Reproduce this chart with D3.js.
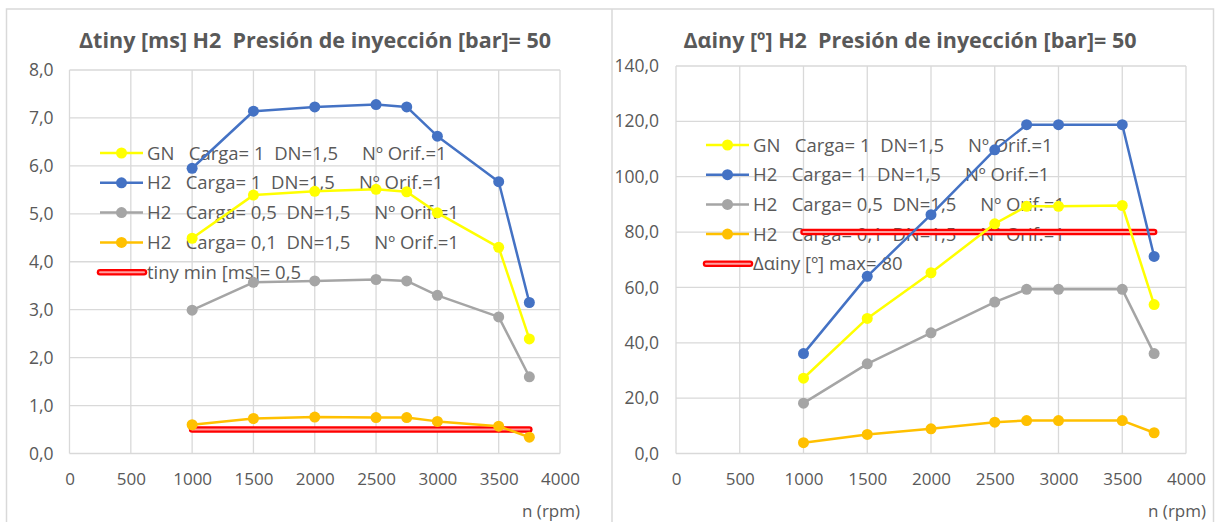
<!DOCTYPE html>
<html>
<head>
<meta charset="utf-8">
<script src="https://cdn.jsdelivr.net/npm/d3@7"></script>
<style>
  html, body { margin: 0; padding: 0; background: #fff; }
  svg { display: block; }
  text { font-family: "Open Sans", "Noto Sans", sans-serif; fill: #595959; white-space: pre; }
</style>
</head>
<body>
<svg id="chart" width="1215" height="522"></svg>
<script>
// Engine speed (rpm) shared by every series
const rpm = [1000, 1500, 2000, 2500, 2750, 3000, 3500, 3750];
const limitRpm = [1000, 3750];

// Injection time Δtiny [ms]
const tGN_c1 = [4.49, 5.39, 5.47, 5.51, 5.46, 5.02, 4.30, 2.39];
const tH2_c1 = [5.95, 7.14, 7.23, 7.28, 7.23, 6.62, 5.67, 3.15];
const tH2_c05 = [2.99, 3.57, 3.60, 3.63, 3.60, 3.30, 2.85, 1.60];
const tH2_c01 = [0.60, 0.73, 0.76, 0.75, 0.75, 0.67, 0.57, 0.34];
const tMin = [0.5, 0.5];

// Injection angle Δαiny [º]
const aGN_c1 = [27.2, 48.8, 65.3, 83.0, 89.3, 89.3, 89.6, 53.8];
const aH2_c1 = [36.1, 64.0, 86.3, 109.7, 118.8, 118.8, 118.8, 71.2];
const aH2_c05 = [18.2, 32.4, 43.6, 54.7, 59.3, 59.3, 59.3, 36.1];
const aH2_c01 = [3.9, 6.9, 8.9, 11.3, 11.9, 11.9, 11.9, 7.5];
const aMax = [80, 80];

// Axis ticks
const xTicks = [0, 500, 1000, 1500, 2000, 2500, 3000, 3500, 4000];
const yTicksT = [0, 1, 2, 3, 4, 5, 6, 7, 8];
const yTicksA = [0, 20, 40, 60, 80, 100, 120, 140];

// Legend labels
const seriesNames = [
  "GN   Carga= 1  DN=1,5     Nº Orif.=1",
  "H2   Carga= 1  DN=1,5     Nº Orif.=1",
  "H2   Carga= 0,5  DN=1,5     Nº Orif.=1",
  "H2   Carga= 0,1  DN=1,5     Nº Orif.=1"
];
const seriesColors = ["#FFFF00", "#4472C4", "#A5A5A5", "#FFC000"];

const locale = d3.formatLocale({decimal: ",", thousands: ".", grouping: [3], currency: ["", "€"]});
const fmt1 = locale.format(".1f");

const svg = d3.select("#chart");

// Chart area frames
svg.append("path")
  .attr("d", "M6.5,530 V9 H1213.5 V530 M612,9 V530")
  .attr("fill", "none").attr("stroke", "#d9d9d9").attr("stroke-width", 1.5);

function drawChart(cfg) {
  const g = svg.append("g");
  const x = d3.scaleLinear().domain([0, 4000]).range([cfg.x0, cfg.x1]);
  const y = d3.scaleLinear().domain([0, cfg.yMax]).range([cfg.yBottom, cfg.yTop]);

  // Gridlines
  g.append("g").selectAll("line").data(cfg.yTicks).join("line")
    .attr("x1", cfg.x0).attr("x2", cfg.x1)
    .attr("y1", d => y(d)).attr("y2", d => y(d))
    .attr("stroke", "#d9d9d9").attr("stroke-width", 1.3);
  g.append("g").selectAll("line").data(xTicks).join("line")
    .attr("y1", cfg.yTop).attr("y2", cfg.yBottom)
    .attr("x1", d => x(d)).attr("x2", d => x(d))
    .attr("stroke", "#d9d9d9").attr("stroke-width", 1.3);

  // Axes (labels only)
  const yAxis = d3.axisLeft(y).tickValues(cfg.yTicks).tickFormat(fmt1).tickSize(0).tickPadding(cfg.yPad);
  const ya = g.append("g").attr("transform", `translate(${cfg.x0},0)`).call(yAxis);
  ya.select(".domain").remove();
  ya.selectAll("text").style("font-size", "17.5px").attr("fill", "#595959")
    .style("font-family", '"Open Sans", sans-serif');

  const xAxis = d3.axisBottom(x).tickValues(xTicks).tickFormat(d3.format("d")).tickSize(0).tickPadding(19);
  const xa = g.append("g").attr("transform", `translate(0,${cfg.yBottom})`).call(xAxis);
  xa.select(".domain").remove();
  xa.selectAll("text").style("font-size", "17px").attr("fill", "#595959")
    .style("font-family", '"Open Sans", sans-serif');

  // Title
  g.append("text").attr("x", cfg.titleX).attr("y", 48)
    .attr("text-anchor", "middle")
    .style("font-size", "21.5px").style("font-weight", "bold")
    .text(cfg.title);

  // Axis caption
  g.append("text").attr("x", cfg.x1 + 20).attr("y", 517)
    .attr("text-anchor", "end").style("font-size", "17px")
    .text("n (rpm)");

  // Legend
  const lg = g.append("g");
  const rows = cfg.series.map((s, i) => ({name: seriesNames[i], color: seriesColors[i], limit: false}))
    .concat([{name: cfg.limitName, color: "#FF0000", limit: true}]);
  rows.forEach((r, i) => {
    const ly = cfg.legendY + i * cfg.legendStep;
    const lx = cfg.legendX;
    if (r.limit) {
      lg.append("line").attr("x1", lx).attr("x2", lx + 44).attr("y1", ly).attr("y2", ly)
        .attr("stroke", "#FF0000").attr("stroke-width", 6.5).attr("stroke-linecap", "round");
      lg.append("line").attr("x1", lx).attr("x2", lx + 44).attr("y1", ly).attr("y2", ly)
        .attr("stroke", "#FFA0A0").attr("stroke-width", 2).attr("stroke-linecap", "round");
    } else {
      lg.append("line").attr("x1", lx).attr("x2", lx + 43).attr("y1", ly).attr("y2", ly)
        .attr("stroke", r.color).attr("stroke-width", 2.5);
      lg.append("circle").attr("cx", lx + 21.5).attr("cy", ly).attr("r", 5.5).attr("fill", r.color);
    }
    lg.append("text").attr("x", lx + 47).attr("y", ly).attr("dy", "0.36em")
      .style("font-size", "18.5px")
      .text(r.name);
  });

  // Limit line (double red stroke)
  const limLine = d3.line().x((d, i) => x(limitRpm[i])).y(d => y(d));
  g.append("path").attr("d", limLine(cfg.limit)).attr("fill", "none")
    .attr("stroke", "#FF0000").attr("stroke-width", 6.5).attr("stroke-linecap", "round");
  g.append("path").attr("d", limLine(cfg.limit)).attr("fill", "none")
    .attr("stroke", "#FFA0A0").attr("stroke-width", 2).attr("stroke-linecap", "round");

  // Data series
  const line = d3.line().x((d, i) => x(rpm[i])).y(d => y(d));
  cfg.series.forEach((vals, si) => {
    const sg = g.append("g");
    sg.append("path").attr("d", line(vals)).attr("fill", "none")
      .attr("stroke", seriesColors[si]).attr("stroke-width", 2.5).attr("stroke-linejoin", "round");
    sg.selectAll("circle").data(vals).join("circle")
      .attr("cx", (d, i) => x(rpm[i])).attr("cy", d => y(d)).attr("r", 5.5)
      .attr("fill", seriesColors[si]);
  });
}

drawChart({
  x0: 69.5, x1: 560, yTop: 70, yBottom: 453.5, yMax: 8, yTicks: yTicksT, yPad: 16,
  title: "Δtiny [ms] H2  Presión de inyección [bar]= 50", titleX: 315,
  series: [tGN_c1, tH2_c1, tH2_c05, tH2_c01],
  limit: tMin, limitName: "tiny min [ms]= 0,5",
  legendX: 100, legendY: 153, legendStep: 29.8
});

drawChart({
  x0: 676, x1: 1186, yTop: 66, yBottom: 453.5, yMax: 140, yTicks: yTicksA, yPad: 17,
  title: "Δαiny [º] H2  Presión de inyección [bar]= 50", titleX: 910,
  series: [aGN_c1, aH2_c1, aH2_c05, aH2_c01],
  limit: aMax, limitName: "Δαiny [º] max= 80",
  legendX: 706, legendY: 145, legendStep: 29.7
});
</script>
</body>
</html>
